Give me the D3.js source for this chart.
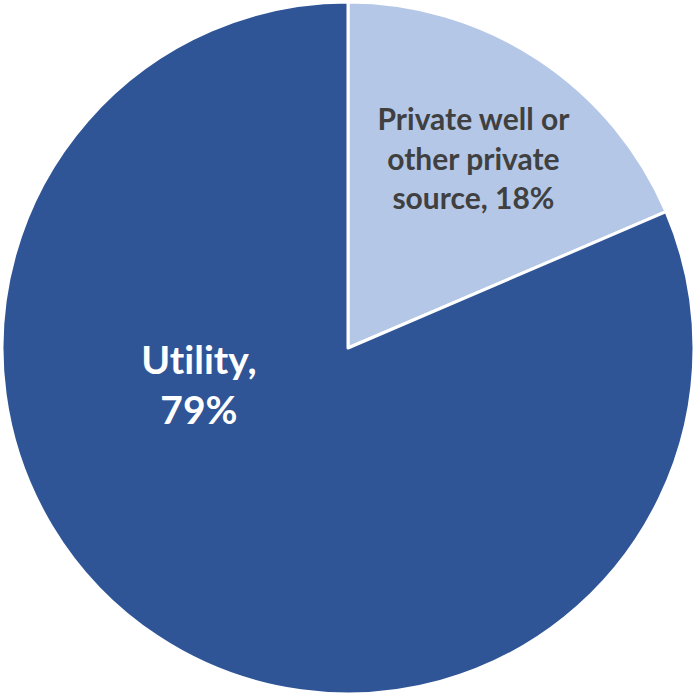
<!DOCTYPE html>
<html>
<head>
<meta charset="utf-8">
<script src="https://cdn.jsdelivr.net/npm/d3@7"></script>
<style>
  html, body { margin: 0; padding: 0; background: #ffffff; }
  svg { display: block; }
  text { font-variant-ligatures: none; font-feature-settings: "liga" 0; }
</style>
</head>
<body>
<svg id="chart" width="694" height="697"></svg>
<script>
// Water source shares
const categories = ["Private well or other private source", "Utility"];
const values = [18, 79];
const labelLines = [
  ["Private well or", "other private", "source, 18%"],
  ["Utility,", "79%"]
];

const width = 694, height = 697;
const cx = 348, cy = 348, radius = 346;
const colors = ["#b4c7e7", "#2f5597"];
const textColors = ["#404040", "#ffffff"];

const svg = d3.select("#chart");
const g = svg.append("g").attr("transform", `translate(${cx},${cy})`);

const pie = d3.pie().sort(null).value(d => d.value);
const arcs = pie(categories.map((c, i) => ({ name: c, value: values[i], i })));

const arc = d3.arc().innerRadius(0).outerRadius(radius);

g.selectAll("path.slice")
  .data(arcs)
  .join("path")
  .attr("class", "slice")
  .attr("d", arc)
  .attr("fill", d => colors[d.data.i])
  .attr("stroke", "#ffffff")
  .attr("stroke-width", 3)
  .attr("stroke-linejoin", "round");

// Label anchors in polar form: angle (degrees clockwise from top) and fraction of radius
const labelAngle = [33.6, 256];
const labelRadius = [0.655, 0.444];
const fontSize = [30, 39];
const lineHeight = [39.5, 50];

arcs.forEach(d => {
  const i = d.data.i;
  const a = labelAngle[i] * Math.PI / 180;
  const r = radius * labelRadius[i];
  const x = Math.sin(a) * r;
  const y = -Math.cos(a) * r;
  const lines = labelLines[i];
  const text = g.append("text")
    .attr("text-anchor", "middle")
    .attr("font-family", "Lato, 'Open Sans', sans-serif")
    .attr("font-weight", "bold")
    .attr("font-size", fontSize[i])
    .attr("fill", textColors[i]);
  const n = lines.length;
  lines.forEach((ln, k) => {
    text.append("tspan")
      .attr("x", x)
      .attr("y", y + (k - (n - 1) / 2) * lineHeight[i])
      .attr("dy", "0.35em")
      .text(ln);
  });
});
</script>
</body>
</html>
